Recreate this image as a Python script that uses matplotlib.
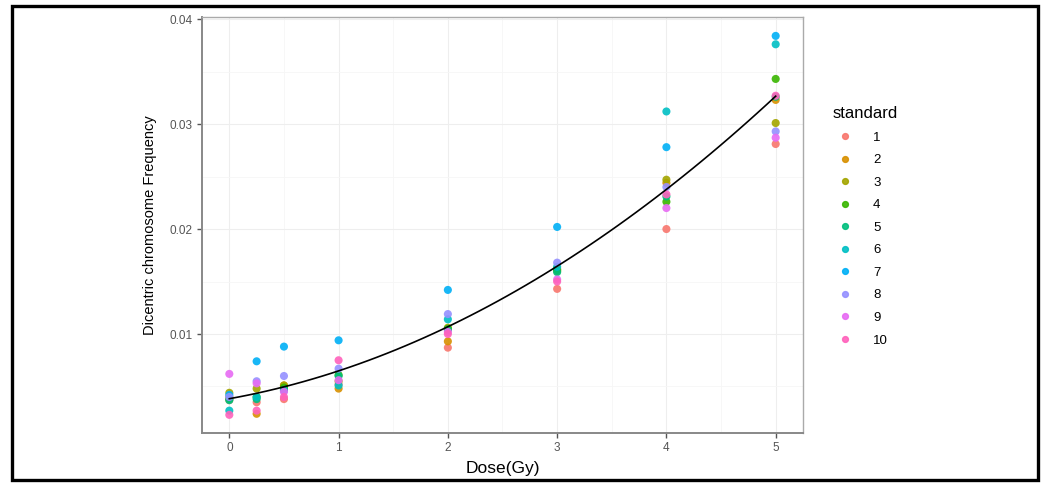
import matplotlib.pyplot as plt
import numpy as np
from matplotlib.patches import Rectangle
from matplotlib.lines import Line2D

plt.rcParams['font.family'] = ['Liberation Sans', 'DejaVu Sans']

# doses (Gy) and dicentric frequency per standard
dose = [0, 0.25, 0.5, 1, 2, 3, 4, 5]
standards = ['1', '2', '3', '4', '5', '6', '7', '8', '9', '10']
freq = {
    '1':  [0.0037, 0.0035, 0.0038, 0.0052, 0.0087, 0.0143, 0.0200, 0.0281],
    '2':  [0.0040, 0.0024, 0.0051, 0.0048, 0.0093, 0.0160, 0.0244, 0.0323],
    '3':  [0.0044, 0.0048, 0.0051, 0.0055, 0.0106, 0.0162, 0.0247, 0.0301],
    '4':  [0.0038, 0.0040, 0.0049, 0.0061, 0.0105, 0.0161, 0.0226, 0.0343],
    '5':  [0.0037, 0.0038, 0.0047, 0.0060, 0.0104, 0.0159, 0.0231, 0.0326],
    '6':  [0.0027, 0.0040, 0.0046, 0.0051, 0.0114, 0.0164, 0.0312, 0.0376],
    '7':  [0.0042, 0.0074, 0.0088, 0.0094, 0.0142, 0.0202, 0.0278, 0.0384],
    '8':  [0.0040, 0.0055, 0.0060, 0.0067, 0.0119, 0.0168, 0.0240, 0.0293],
    '9':  [0.0062, 0.0053, 0.0045, 0.0056, 0.0102, 0.0152, 0.0220, 0.0287],
    '10': [0.0023, 0.0027, 0.0040, 0.0075, 0.0100, 0.0150, 0.0233, 0.0327],
}
# ggplot default hue palette for 10 levels
colors = ['#F8766D', '#D89000', '#A3A500', '#39B600', '#00BF7D',
          '#00BFC4', '#00B0F6', '#9590FF', '#E76BF3', '#FF62BC']

x_ticks = [0, 1, 2, 3, 4, 5]
y_ticks = [0.01, 0.02, 0.03, 0.04]
y_tick_labels = ['0.01', '0.02', '0.03', '0.04']

fig = plt.figure(figsize=(10.44, 4.86), dpi=100)
ax = fig.add_axes([202 / 1044, 53 / 486, 601 / 1044, 416 / 486])

for s, c in zip(standards, colors):
    ax.scatter(dose, freq[s], s=34, color=c, edgecolors='none', alpha=0.9, zorder=3)

# quadratic dose-response fit over all points
all_x = np.repeat([dose], len(standards), axis=0).ravel()
all_y = np.array([freq[s] for s in standards]).ravel()
coef = np.polyfit(all_x, all_y, 2)
xs = np.linspace(0, 5, 60)
ax.plot(xs, np.polyval(coef, xs), color='black', lw=1.2, zorder=4)

ax.set_xlim(-0.25, 5.25)
ax.set_ylim(0.00057, 0.0402)
ax.set_xticks(x_ticks)
ax.set_xticklabels([str(t) for t in x_ticks])
ax.set_yticks(y_ticks)
ax.set_yticklabels(y_tick_labels)
ax.set_xticks([0.5, 1.5, 2.5, 3.5, 4.5], minor=True)
ax.set_yticks([0.005, 0.015, 0.025, 0.035], minor=True)
ax.tick_params(which='minor', length=0)
ax.tick_params(which='major', length=3.5, width=1, color='#555555',
               labelsize=8.5, labelcolor='#555555', pad=3)
ax.grid(which='major', color='#eeeeee', lw=0.8)
ax.grid(which='minor', color='#f6f6f6', lw=0.6)
ax.set_axisbelow(True)
for side in ['top', 'right']:
    ax.spines[side].set_color('#aaaaaa')
    ax.spines[side].set_linewidth(1.0)
for side in ['left', 'bottom']:
    ax.spines[side].set_color('#888888')
    ax.spines[side].set_linewidth(1.4)

ax.set_xlabel('Dose(Gy)', fontsize=12.5, labelpad=5)
ax.set_ylabel('Dicentric chromosome Frequency', fontsize=10.5, labelpad=9)

handles = [Line2D([], [], ls='none', marker='o', ms=4.2, color=c, alpha=0.9)
           for c in colors]
leg = fig.legend(handles, standards, title='standard', loc='upper left',
                 bbox_to_anchor=(827 / 1044, 1 - 101 / 486), frameon=False,
                 fontsize=9.5, title_fontsize=12, labelspacing=0.78,
                 handletextpad=1.1, borderaxespad=0)
leg._legend_box.align = 'left'

# outer frame
fig.patches.append(Rectangle((12 / 1044, 6 / 486), 1026 / 1044, 474 / 486,
                             transform=fig.transFigure, fill=False,
                             edgecolor='black', lw=2.4))

fig.savefig('out.png', dpi=100)
